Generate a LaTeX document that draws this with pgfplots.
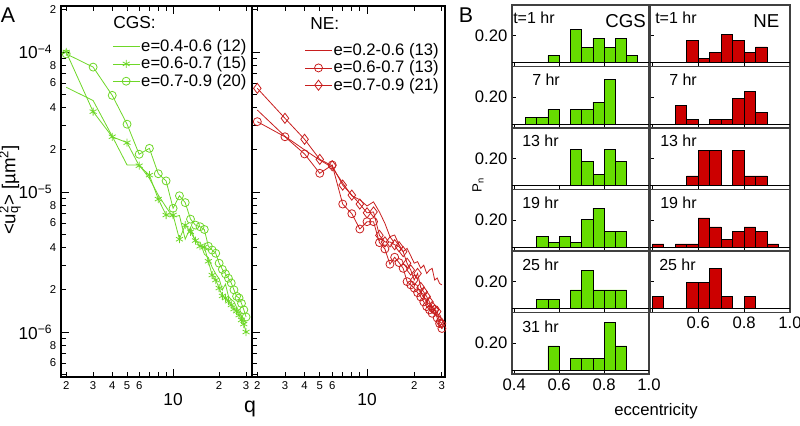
\documentclass[border=0pt]{standalone}
\usepackage{fontspec}
\setmainfont{Liberation Sans}
\usepackage{pgfplots}
\pgfplotsset{compat=1.18}

\definecolor{cgsline}{RGB}{110,215,40}
\definecolor{cgsbar}{RGB}{102,221,0}
\definecolor{neline}{RGB}{200,30,30}
\definecolor{nebar}{RGB}{204,0,0}

\newcommand{\fs}[1]{\fontsize{#1}{#1}\selectfont}

\pgfplotsset{
  qpanel/.style={
    scale only axis, height=278.25pt, anchor=south west,
    xmin=1.85, ymin=4.77e-7, ymax=2.13e-4,
    tick align=inside, xtick pos=both, ytick pos=left,
    major tick length=3.5pt,
    axis line style={line width=0.8pt},
    tick style={line width=0.6pt, black},
    xtick={2,3,4,5,6,7,8,9,20,30},
    xticklabels={2,3,4,5,6,{},{},{},2,3},
    extra x ticks={10},
    extra x tick labels={10},
    extra x tick style={major tick length=6pt, tick label style={font=\fs{13}, yshift=-9pt}},
    ytick={5e-7,6e-7,7e-7,8e-7,9e-7,2e-6,3e-6,4e-6,5e-6,6e-6,7e-6,8e-6,9e-6,2e-5,3e-5,4e-5,5e-5,6e-5,7e-5,8e-5,9e-5,2e-4},
    extra y ticks={1e-6,1e-5,1e-4},
    extra y tick style={major tick length=6pt, tick label style={font=\fs{13}, xshift=-3pt}},
    tick label style={font=\fs{8.5}},
    legend cell align=left,
    legend image code/.code={\draw[#1, mark repeat=2, mark phase=2] plot coordinates {(0pt,0pt)(10pt,0pt)(20pt,0pt)};},
  },
  hist/.style={
    scale only axis, height=46.125pt, anchor=north west,
    xmin=0.39, xmax=1.0, ymin=-0.028, ymax=0.427,
    xtick={0.4,0.6,0.8,1.0}, xticklabels={}, ytick={0.2}, yticklabels={},
    tick align=inside, xtick pos=bottom, ytick pos=left,
    major tick length=3pt,
    axis line style={black!75, line width=0.8pt},
    tick style={black, line width=0.6pt},
    tick label style={font=\fs{12.5}},
  },
  cgsh/.style={ybar, bar width=0.05, bar shift=0pt, fill=cgsbar, draw=black, line width=0.5pt},
  neh/.style={ybar, bar width=0.05, bar shift=0pt, fill=nebar, draw=black, line width=0.5pt},
}

\begin{document}
\begin{tikzpicture}
\path[use as bounding box] (0,0) rectangle (600pt,-318.75pt);

% ---------------- panel A, CGS ----------------
\begin{loglogaxis}[qpanel, at={(45.75pt,-282.75pt)}, width=143.25pt, xmax=32.8,
  yticklabels={{},6,{},8,{},2,{},4,{},6,{},8,{},2,{},4,{},6,{},8,{},2},
  extra y tick labels={10\textsuperscript{−6},10\textsuperscript{−5},10\textsuperscript{−4}},
  legend style={draw=none, fill=none, at={(1,1)}, anchor=north east, xshift=-3pt, yshift=-24pt,
    font=\fs{12.5}, inner sep=0pt, row sep=0.4pt, nodes={inner sep=1pt}},
]
\addplot[cgsline, line width=0.6pt] coordinates {
 (2,5.6e-5)(3,4.5e-5)(4,2.5e-5)(5,1.56e-5)(6,1.56e-5)(7,1.25e-5)(8,9.5e-6)(9,7.8e-6)
 (10,6.6e-6)(11,6.8e-6)(12,4.6e-6)(13,5.6e-6)(14,4.4e-6)(15,4.4e-6)(16,3.6e-6)(17,3.4e-6)
 (18,2.9e-6)(19,2.6e-6)(20,2.4e-6)(21,2.0e-6)(22,2.2e-6)(23,1.8e-6)(24,1.7e-6)(25,1.65e-6)
 (26,1.5e-6)(27,1.4e-6)(28,1.3e-6)(29,1.25e-6)(30,1.15e-6)};
\addlegendentry{e=0.4-0.6 (12)}
\addplot[cgsline, line width=0.6pt, mark=asterisk, mark size=3pt] coordinates {
 (2,1.0e-4)(3,3.75e-5)(4,2.48e-5)(5,2.25e-5)(6,1.54e-5)(7,1.32e-5)(8,8.9e-6)(9,6.85e-6)
 (10,6.85e-6)(11,4.6e-6)(12,5.8e-6)(13,5.2e-6)(14,4.5e-6)(15,4.1e-6)(16,4.05e-6)(17,3.2e-6)
 (18,2.55e-6)(19,2.35e-6)(20,2.06e-6)(21,1.81e-6)(22,1.75e-6)(23,1.66e-6)(24,1.56e-6)(25,1.46e-6)
 (26,1.41e-6)(27,1.32e-6)(28,1.22e-6)(29,1.14e-6)(30,1.0e-6)};
\addlegendentry{e=0.6-0.7 (15)}
\addplot[cgsline, line width=0.6pt, mark=o, mark size=3pt] coordinates {
 (2,9.7e-5)(3,7.8e-5)(4,4.9e-5)(5,3.05e-5)(6,1.86e-5)(7,2.05e-5)(8,1.35e-5)(9,1.2e-5)
 (10,7.65e-6)(11,9.4e-6)(12,8.4e-6)(13,6.4e-6)(14,5.8e-6)(15,5.65e-6)(16,5.4e-6)(17,4.1e-6)
 (18,3.85e-6)(19,3.65e-6)(20,3.1e-6)(21,2.8e-6)(22,2.6e-6)(23,2.42e-6)(24,2.24e-6)(25,2.0e-6)
 (26,1.8e-6)(27,1.75e-6)(28,1.6e-6)(29,1.44e-6)(30,1.28e-6)};
\addlegendentry{e=0.7-0.9 (20)}
\end{loglogaxis}

% ---------------- panel A, NE ----------------
\begin{loglogaxis}[qpanel, at={(189pt,-282.75pt)}, width=144.75pt, xmax=31.4,
  yticklabels={}, extra y tick labels={{},{},{}},
  legend style={draw=none, fill=none, at={(1,1)}, anchor=north east, xshift=-3.5pt, yshift=-27pt,
    font=\fs{12.5}, inner sep=0pt, row sep=0.4pt, nodes={inner sep=1pt}},
]
\addplot[neline, line width=0.6pt] coordinates {
 (2,3.85e-5)(3,2.5e-5)(4,2.0e-5)(5,1.69e-5)(6,1.5e-5)(7,1.16e-5)(8,9.4e-6)(9,8.8e-6)
 (10,7.95e-6)(11,8.5e-6)(12,7.2e-6)(13,5.97e-6)(14,4.8e-6)(15,4.93e-6)(16,4.2e-6)(17,3.75e-6)
 (18,3.96e-6)(19,3.5e-6)(20,3.1e-6)(21,3.18e-6)(22,2.85e-6)(23,3.0e-6)(24,2.62e-6)(25,2.77e-6)
 (26,2.85e-6)(27,2.35e-6)(28,2.43e-6)(29,2.22e-6)(30,2.17e-6)};
\addlegendentry{e=0.2-0.6 (13)}
\addplot[neline, line width=0.6pt, mark=o, mark size=3pt] coordinates {
 (2,3.18e-5)(3,2.48e-5)(4,1.87e-5)(5,1.36e-5)(6,1.56e-5)(7,8.2e-6)(8,7.0e-6)(9,5.44e-6)
 (10,6.14e-6)(11,6.14e-6)(12,4.35e-6)(13,3.92e-6)(14,3.05e-6)(15,3.42e-6)(16,3.13e-6)(17,2.85e-6)
 (18,2.29e-6)(19,2.17e-6)(20,2.06e-6)(21,1.91e-6)(22,1.78e-6)(23,1.64e-6)(24,1.52e-6)(25,1.44e-6)
 (26,1.36e-6)(27,1.45e-6)(28,1.26e-6)(29,1.15e-6)(30,1.06e-6)};
\addlegendentry{e=0.6-0.7 (13)}
\addplot[neline, line width=0.6pt, mark=diamond, mark size=3.8pt] coordinates {
 (2,5.5e-5)(3,3.36e-5)(4,2.38e-5)(5,1.71e-5)(6,1.54e-5)(7,1.12e-5)(8,9.5e-6)(9,8.2e-6)
 (10,7.1e-6)(11,7.2e-6)(12,4.9e-6)(13,4.4e-6)(14,4.4e-6)(15,4.2e-6)(16,4.07e-6)(17,3.75e-6)
 (18,3.1e-6)(19,2.77e-6)(20,2.35e-6)(21,2.62e-6)(22,2.08e-6)(23,1.93e-6)(24,1.79e-6)(25,1.64e-6)
 (26,1.52e-6)(27,1.44e-6)(28,1.4e-6)(29,1.19e-6)(30,1.15e-6)};
\addlegendentry{e=0.7-0.9 (21)}
\end{loglogaxis}

% ---------------- panel B, CGS column ----------------
\begin{axis}[hist, at={(384pt,-3.75pt)}, width=102.75pt, yticklabels={0.20}]
\addplot[cgsh] coordinates {(0.575,0.052)(0.675,0.247)(0.725,0.114)(0.775,0.18)(0.825,0.114)(0.875,0.18)(0.925,0.052)};
\draw[line width=0.6pt] (axis cs:0.39,0) -- (axis cs:1.0,0);
\end{axis}
\begin{axis}[hist, at={(384pt,-49.875pt)}, width=102.75pt, yticklabels={0.20}]
\addplot[cgsh] coordinates {(0.475,0.049)(0.525,0.049)(0.575,0.11)(0.675,0.11)(0.725,0.11)(0.775,0.163)(0.825,0.334)};
\draw[line width=0.6pt] (axis cs:0.39,0) -- (axis cs:1.0,0);
\end{axis}
\begin{axis}[hist, at={(384pt,-96pt)}, width=102.75pt, yticklabels={0.20}]
\addplot[cgsh] coordinates {(0.675,0.27)(0.725,0.18)(0.775,0.084)(0.825,0.27)(0.875,0.18)};
\draw[line width=0.6pt] (axis cs:0.39,0) -- (axis cs:1.0,0);
\end{axis}
\begin{axis}[hist, at={(384pt,-142.125pt)}, width=102.75pt, yticklabels={0.20}]
\addplot[cgsh] coordinates {(0.525,0.08)(0.575,0.036)(0.625,0.08)(0.675,0.036)(0.725,0.205)(0.775,0.29)(0.825,0.12)(0.875,0.12)};
\draw[line width=0.6pt] (axis cs:0.39,0) -- (axis cs:1.0,0);
\end{axis}
\begin{axis}[hist, at={(384pt,-188.25pt)}, width=102.75pt, yticklabels={0.20}]
\addplot[cgsh] coordinates {(0.525,0.066)(0.575,0.066)(0.675,0.139)(0.725,0.285)(0.775,0.139)(0.825,0.139)(0.875,0.139)};
\draw[line width=0.6pt] (axis cs:0.39,0) -- (axis cs:1.0,0);
\end{axis}
\begin{axis}[hist, at={(384pt,-234.375pt)}, width=102.75pt, yticklabels={0.20},
  xticklabels={0.4,0.6,0.8,1.0}]
\addplot[cgsh] coordinates {(0.575,0.18)(0.675,0.085)(0.725,0.085)(0.775,0.085)(0.825,0.355)(0.875,0.18)};
\draw[line width=0.6pt] (axis cs:0.39,0) -- (axis cs:1.0,0);
\end{axis}

% ---------------- panel B, NE column ----------------
\begin{axis}[hist, at={(487.5pt,-3.75pt)}, width=105pt]
\addplot[neh] coordinates {(0.575,0.166)(0.625,0.032)(0.675,0.076)(0.725,0.21)(0.775,0.166)(0.825,0.076)(0.875,0.117)};
\draw[line width=0.6pt] (axis cs:0.39,0) -- (axis cs:1.0,0);
\end{axis}
\begin{axis}[hist, at={(487.5pt,-49.875pt)}, width=105pt]
\addplot[neh] coordinates {(0.525,0.139)(0.575,0.037)(0.675,0.037)(0.725,0.037)(0.775,0.19)(0.825,0.244)(0.875,0.085)};
\draw[line width=0.6pt] (axis cs:0.39,0) -- (axis cs:1.0,0);
\end{axis}
\begin{axis}[hist, at={(487.5pt,-96pt)}, width=105pt]
\addplot[neh] coordinates {(0.575,0.072)(0.625,0.26)(0.675,0.26)(0.775,0.26)(0.825,0.072)(0.875,0.072)};
\draw[line width=0.6pt] (axis cs:0.39,0) -- (axis cs:1.0,0);
\end{axis}
\begin{axis}[hist, at={(487.5pt,-142.125pt)}, width=105pt]
\addplot[neh] coordinates {(0.425,0.024)(0.525,0.024)(0.575,0.024)(0.625,0.217)(0.675,0.15)(0.725,0.055)(0.775,0.116)(0.825,0.15)(0.875,0.116)(0.925,0.024)};
\draw[line width=0.6pt] (axis cs:0.39,0) -- (axis cs:1.0,0);
\end{axis}
\begin{axis}[hist, at={(487.5pt,-188.25pt)}, width=105pt,
  xticklabels={{},0.6,0.8,1.0}]
\addplot[neh] coordinates {(0.425,0.09)(0.575,0.195)(0.625,0.195)(0.675,0.298)(0.725,0.09)(0.825,0.09)};
\draw[line width=0.6pt] (axis cs:0.39,0) -- (axis cs:1.0,0);
\end{axis}

% ---------------- text ----------------
\begin{scope}[x=0.75pt, y=-0.75pt]
\node[font=\fs{16}] at (8,15) {A};
\node[font=\fs{16}] at (466,15) {B};
\node[font=\fs{13}, anchor=west, inner sep=0pt] at (113,23) {CGS:};
\node[font=\fs{13}, anchor=west, inner sep=0pt] at (310,24) {NE:};
\node[font=\fs{14}, rotate=90] at (10,190) {<u\rlap{\textsubscript{q}}\textsuperscript{2}> [µm\textsuperscript{2}]};
\node[font=\fs{16}] at (250,409) {q};
\node[font=\fs{10}, rotate=90] at (478,185) {P\textsubscript{n}};
\node[font=\fs{12.5}] at (656,411) {eccentricity};
\node[font=\fs{12}, anchor=west, inner sep=0pt] at (513,18) {t=1 hr};
\node[font=\fs{14}, anchor=west, inner sep=0pt] at (605,21) {CGS};
\node[font=\fs{12}, anchor=west, inner sep=0pt] at (532,80) {7 hr};
\node[font=\fs{12}, anchor=west, inner sep=0pt] at (522,141) {13 hr};
\node[font=\fs{12}, anchor=west, inner sep=0pt] at (522,203) {19 hr};
\node[font=\fs{12}, anchor=west, inner sep=0pt] at (522,265) {25 hr};
\node[font=\fs{12}, anchor=west, inner sep=0pt] at (522,327) {31 hr};
\node[font=\fs{12}, anchor=west, inner sep=0pt] at (655,18) {t=1 hr};
\node[font=\fs{14}, anchor=west, inner sep=0pt] at (753,21) {NE};
\node[font=\fs{12}, anchor=west, inner sep=0pt] at (669,80) {7 hr};
\node[font=\fs{12}, anchor=west, inner sep=0pt] at (660,141) {13 hr};
\node[font=\fs{12}, anchor=west, inner sep=0pt] at (660,203) {19 hr};
\node[font=\fs{12}, anchor=west, inner sep=0pt] at (659,265) {25 hr};
\end{scope}
\end{tikzpicture}
\end{document}
